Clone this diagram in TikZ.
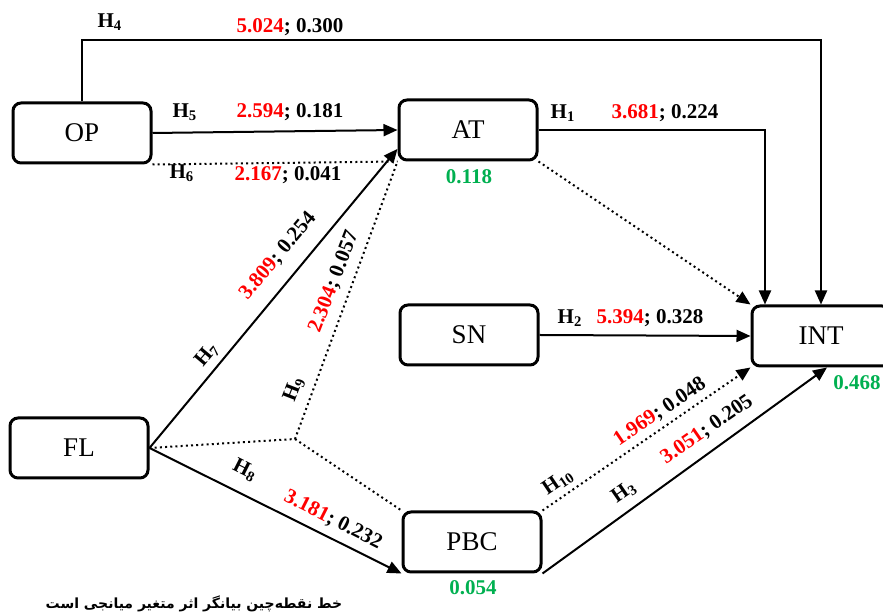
\documentclass[tikz,border=0pt]{standalone}
\usepackage{fontspec}
\setmainfont{Liberation Serif}
\newfontfamily\arabicfont[Script=Arabic]{DejaVu Sans}
\usetikzlibrary{arrows.meta}
\TeXXeTstate=1
\definecolor{hred}{RGB}{255,0,0}
\definecolor{hgreen}{RGB}{0,176,80}
\newcommand{\hyp}[1]{\textbf{H\textsubscript{#1}}}
\newcommand{\est}[2]{\textcolor{hred}{#1}; #2}
\tikzset{>={Triangle[length=7pt,width=6pt]}}
\tikzset{
  var/.style={draw, line width=1.5pt, rounded corners=4pt, minimum width=69pt,
    minimum height=30pt, inner sep=0pt, font=\fontsize{13.5}{15}\selectfont},
  solidln/.style={line width=1pt},
  dotln/.style={line width=1pt, dash pattern=on 1pt off 1.6pt},
  lbl/.style={font=\fontsize{10.5}{12}\selectfont\bfseries, inner sep=0pt},
  rsq/.style={lbl, text=hgreen}
}

\begin{document}
\begin{tikzpicture}[x=0.5pt, y=-0.5pt]
\useasboundingbox (0,0) rectangle (883,613);
% constructs
\node[var] (op) at (82,133) {OP};
\node[var] (at) at (468,130) {AT};
\node[var] (sn) at (469,335) {SN};
\node[var] (fl) at (79,448) {FL};
\node[var] (pbc) at (472,542) {PBC};
\node[var] (int) at (821,336) {INT};
\coordinate (fl9) at (295,439);
% paths
\draw[solidln, ->] (op.north) -- ++(0,-61) -| (int.north);
\draw[solidln, ->] (at.east) -| ([xshift=-28pt]int.north);
\draw[dotln, ->] (at.south east) -- (int.north west);
\draw[solidln, ->] (sn.east) -- (int.west);
\draw[solidln, ->] (op.east) -- (at.west);
\draw[dotln] (op.south east) -- (at.south west);
\draw[solidln, ->] (fl.east) -- (at.195);
\draw[dotln] (fl.east) -- (fl9) -- (at.south west);
\draw[dotln] (fl9) -- (pbc.north west);
\draw[solidln, ->] (fl.east) -- (pbc.south west);
\draw[dotln, ->] (pbc.north east) -- (int.south west);
\draw[solidln, ->] (pbc.south east) -- ([xshift=3pt]int.south);
% hypotheses
\node[lbl] (h4) at (110,22) {\hyp{4}};
\node[lbl] (e4) at (290,27) {\est{5.024}{0.300}};
\node[lbl] (h5) at (185,112) {\hyp{5}};
\node[lbl] (e5) at (290,112) {\est{2.594}{0.181}};
\node[lbl] (h6) at (182,173) {\hyp{6}};
\node[lbl] (e6) at (288,175) {\est{2.167}{0.041}};
\node[lbl] (h1) at (563,113) {\hyp{1}};
\node[lbl] (e1) at (665,113) {\est{3.681}{0.224}};
\node[lbl] (h2) at (570,318) {\hyp{2}};
\node[lbl] (e2) at (650,318) {\est{5.394}{0.328}};
\node[lbl, rotate=49.8] (h7) at (207,355) {\hyp{7}};
\node[lbl, rotate=49.8] (e7) at (278,256) {\est{3.809}{0.254}};
\node[lbl, rotate=68.8] (h9) at (294,389) {\hyp{9}};
\node[lbl, rotate=68.8] (e9) at (334,282) {\est{2.304}{0.057}};
\node[lbl, rotate=-26.8] (h8) at (245,470) {\hyp{8}};
\node[lbl, rotate=-26.8] (e8) at (333,520) {\est{3.181}{0.232}};
\node[lbl, rotate=34.1] (h10) at (558,482) {\hyp{10}};
\node[lbl, rotate=34.1] (e10) at (660,412) {\est{1.969}{0.048}};
\node[lbl, rotate=34.7] (h3) at (624,492) {\hyp{3}};
\node[lbl, rotate=34.7] (e3) at (707,430) {\est{3.051}{0.205}};
% explained variance
\node[rsq] (r2at) at (469,177) {0.118};
\node[rsq] (r2int) at (857,383) {0.468};
\node[rsq] (r2pbc) at (473,588) {0.054};
% note
\node[inner sep=0pt, font=\fontsize{7}{9}\selectfont] (note) at (194,604)
  {\arabicfont\bfseries\beginR خط نقطه‌چین بیانگر اثر متغیر میانجی است\endR};
\end{tikzpicture}
\end{document}
